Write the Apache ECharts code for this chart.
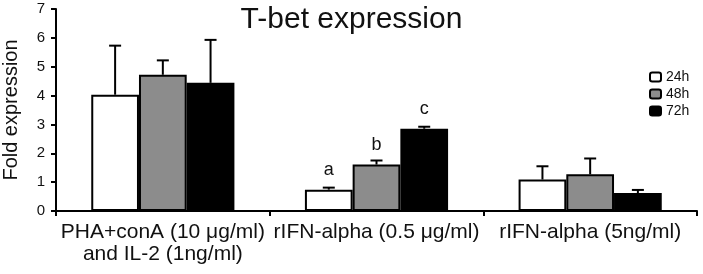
<!DOCTYPE html>
<html>
<head>
<meta charset="utf-8">
<script src="https://cdn.jsdelivr.net/npm/echarts@6/dist/echarts.min.js"></script>
<style>html,body{margin:0;padding:0;background:#fff}#c{width:703px;height:274px}</style>
</head>
<body>
<div id="c"></div>
<script>
const categories = ['PHA+conA (10 \u03bcg/ml)\nand IL-2 (1ng/ml)', 'rIFN-alpha (0.5 \u03bcg/ml)', 'rIFN-alpha (5ng/ml)'];
const seriesNames = ['24h', '48h', '72h'];
const values24 = [4.03, 0.74, 1.09];
const values48 = [4.72, 1.61, 1.27];
const values72 = [4.44, 2.85, 0.62];
const sd24 = [1.70, 0.07, 0.46];
const sd48 = [0.50, 0.14, 0.55];
const sd72 = [1.49, 0.07, 0.11];
const sig24 = ['', 'a', ''];
const sig48 = ['', 'b', ''];
const sig72 = ['', 'c', ''];
const yTicks = [0, 1, 2, 3, 4, 5, 6, 7];

const FONT = 'Liberation Sans, Arial, Helvetica, sans-serif';
const colors = ['#ffffff', '#8c8c8c', '#000000'];
const valueSets = [values24, values48, values72];
const sdSets = [sd24, sd48, sd72];
const sigSets = [sig24, sig48, sig72];
const GAP = 0.33;

const chart = echarts.init(document.getElementById('c'), null, {renderer: 'canvas'});

const series = [];
valueSets.forEach((vals, k) => {
  series.push({
    name: seriesNames[k],
    type: 'bar',
    data: vals,
    barGap: '0%',
    barCategoryGap: (GAP * 100) + '%',
    itemStyle: {color: colors[k], borderColor: '#000', borderWidth: 2},
    label: {
      show: true, position: 'top', distance: 11,
      fontFamily: FONT, fontSize: 18, color: '#111',
      formatter: p => sigSets[k][p.dataIndex]
    },
    emphasis: {disabled: true},
    z: 2
  });
});
valueSets.forEach((vals, k) => {
  series.push({
    type: 'custom',
    data: vals.map((v, i) => [i, v, sdSets[k][i]]),
    z: 3,
    renderItem: function (params, api) {
      const cat = api.value(0);
      const v = api.value(1);
      const s = api.value(2);
      const base = api.coord([cat, v]);
      const top = api.coord([cat, v + s]);
      const band = api.size([1, 0])[0];
      const bw = band * (1 - GAP) / 3;
      const x = base[0] + (k - 1) * bw;
      const st = {stroke: '#000', lineWidth: 2};
      return {
        type: 'group',
        children: [
          {type: 'line', shape: {x1: x, y1: base[1], x2: x, y2: top[1]}, style: st},
          {type: 'line', shape: {x1: x - 6, y1: top[1], x2: x + 6, y2: top[1]}, style: st}
        ]
      };
    }
  });
});

chart.setOption({
  animation: false,
  backgroundColor: '#fff',
  title: {
    text: 'T-bet expression', left: 'center', top: 0,
    textStyle: {fontFamily: FONT, fontSize: 30, fontWeight: 'normal', color: '#111'}
  },
  legend: {
    data: seriesNames, orient: 'vertical', left: 644, top: 65,
    itemWidth: 11, itemHeight: 9, itemGap: 3,
    textStyle: {fontFamily: FONT, fontSize: 14, color: '#111'},
    selectedMode: false
  },
  grid: {left: 56, right: 6, top: 9, bottom: 63, containLabel: false, outerBoundsMode: 'none'},
  xAxis: {
    type: 'category', data: categories,
    axisLine: {lineStyle: {color: '#000', width: 2}},
    axisTick: {show: true, length: 5, lineStyle: {color: '#000', width: 2}},
    axisLabel: {fontFamily: FONT, fontSize: 21, color: '#111', margin: 10, lineHeight: 22, interval: 0}
  },
  yAxis: {
    type: 'value', min: yTicks[0], max: yTicks[yTicks.length - 1], interval: 1,
    name: 'Fold expression', nameLocation: 'middle', nameGap: 35,
    nameTextStyle: {fontFamily: FONT, fontSize: 20, color: '#111'},
    axisLine: {show: true, lineStyle: {color: '#000', width: 2}},
    axisTick: {show: true, length: 5, lineStyle: {color: '#000', width: 2}},
    splitLine: {show: false},
    axisLabel: {fontFamily: FONT, fontSize: 15, color: '#111', margin: 11}
  },
  series: series
});
</script>
</body>
</html>
